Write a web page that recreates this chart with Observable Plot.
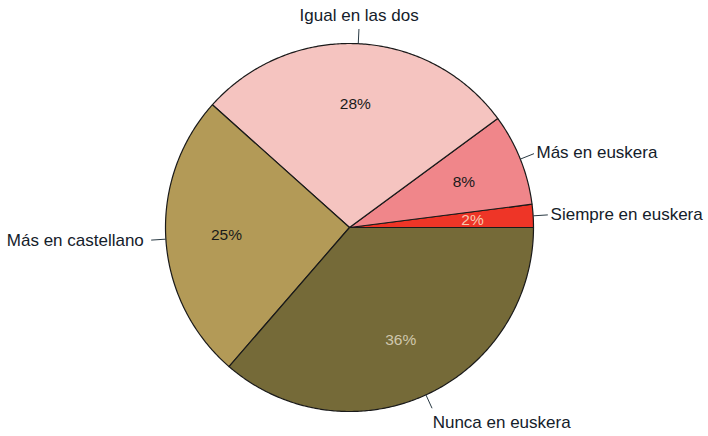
<!DOCTYPE html>
<html><head><meta charset="utf-8">
<script src="https://cdn.jsdelivr.net/npm/d3@7"></script>
<script src="https://cdn.jsdelivr.net/npm/@observablehq/plot@0.6"></script>
<style>body{margin:0;background:#fff}</style>
</head><body><div id="chart"></div>
<script>
const categories = ["Siempre en euskera","Más en euskera","Igual en las dos","Más en castellano","Nunca en euskera"];
const values = [2, 8, 28, 25, 36];
const colors = ["#ee3527","#f0868a","#f5c4c0","#b39a57","#756a38"];
const pctColors = ["#f7c9b0","#1a1a1a","#1a1a1a","#1a1a1a","#cfc7ad"];

const total = d3.sum(values);
let cum = 0;
const slices = categories.map((c,i)=>{
  const a0 = cum/total*2*Math.PI; cum += values[i];
  const a1 = cum/total*2*Math.PI;
  return {c, i, a0, a1, mid:(a0+a1)/2, v:values[i]};
});
const poly = [];
for (const s of slices) {
  poly.push({c:s.c, col:colors[s.i], x:0, y:0});
  const n = Math.max(2, Math.ceil((s.a1-s.a0)/0.01));
  for (let k=0;k<=n;k++){const a=s.a0+(s.a1-s.a0)*k/n; poly.push({c:s.c, col:colors[s.i], x:Math.cos(a), y:Math.sin(a)});}
}
const lab = slices.map(s=>{
  const cx=Math.cos(s.mid), sy=Math.sin(s.mid);
  const mid = Math.abs(cx)<0.3;
  return {c:s.c, x1:cx, y1:sy, x2:1.08*cx, y2:1.08*sy,
    tx:1.1*cx + (mid?0:(cx>0?-0.005:-0.02)), ty:1.1*sy + (mid?0.055*Math.sign(sy):(sy<-0.7?-0.06:0)),
    anchor: mid?"middle":(cx>0?"start":"end"),
    px:0.67*cx, py:0.67*sy, pct: s.v+"%", pc: pctColors[s.i]};
});
const font = "Liberation Sans, Arial, sans-serif";
const chart = Plot.plot({
  width:708, height:436,
  marginLeft:165, marginRight:175, marginTop:43, marginBottom:25,
  x:{domain:[-1,1], axis:null}, y:{domain:[-1,1], axis:null},
  color:{type:"identity"},
  style:{fontFamily:font, background:"#fff"},
  marks:[
    Plot.line(poly,{x:"x",y:"y",z:"c",fill:"col",stroke:"#1a1a1a",strokeWidth:1.2,curve:"linear-closed"}),
    Plot.link(lab,{x1:"x1",y1:"y1",x2:"x2",y2:"y2",stroke:"#2a3a44",strokeWidth:1}),
    ...["start","middle","end"].map(a=>Plot.text(lab.filter(d=>d.anchor===a),{x:"tx",y:"ty",text:"c",textAnchor:a,fontSize:17,fill:"#14202a"})),
    Plot.text(lab,{x:"px",y:"py",text:"pct",fill:"pc",fontSize:15.5})
  ]
});
document.getElementById("chart").append(chart);
</script></body></html>
